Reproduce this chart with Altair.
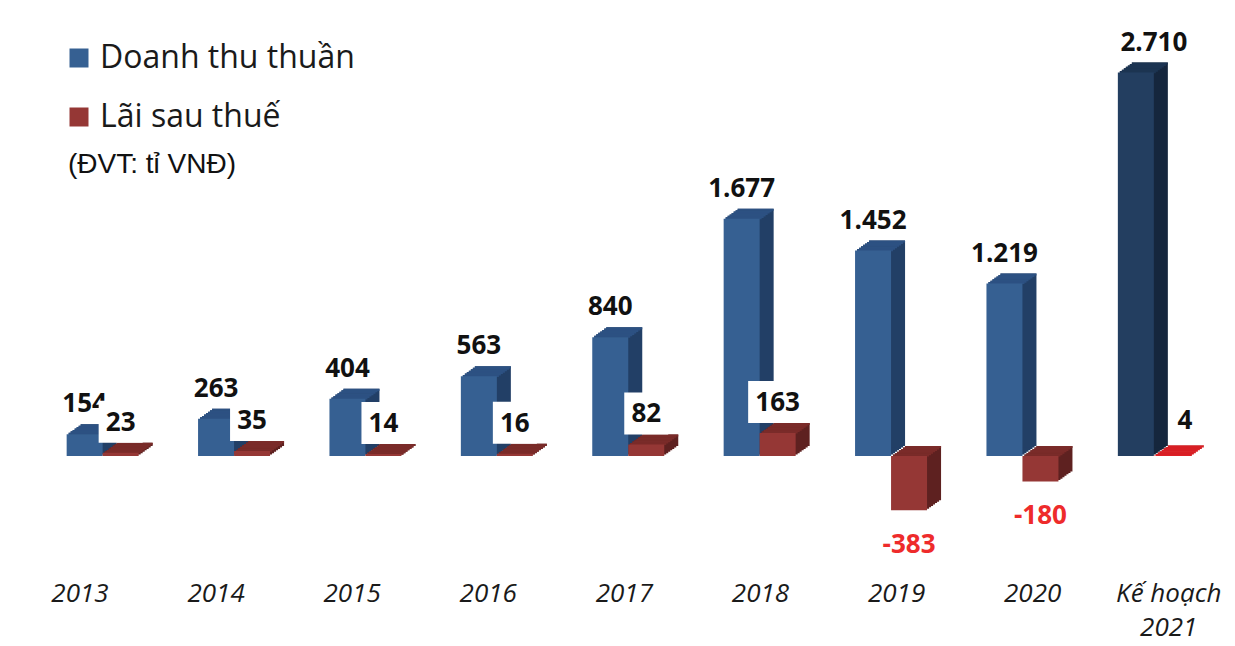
import altair as alt
import pandas as pd

# ---- data ----
years = ["2013", "2014", "2015", "2016", "2017", "2018", "2019", "2020", "Kế hoạch 2021"]
x_labels = ["2013", "2014", "2015", "2016", "2017", "2018", "2019", "2020", "Kế hoạch\n2021"]
revenue = [154, 263, 404, 563, 840, 1677, 1452, 1219, 2710]
profit = [23, 35, 14, 16, 82, 163, -383, -180, 4]
series_names = ["Doanh thu thuần", "Lãi sau thuế"]
unit_note = "(ĐVT: tỉ VNĐ)"

rows = []
for i, yr in enumerate(years):
    plan = i == len(years) - 1
    rows.append({"year": yr, "idx": i, "plan": plan, "series": series_names[0], "s": 0, "v": revenue[i]})
    rows.append({"year": yr, "idx": i, "plan": plan, "series": series_names[1], "s": 1, "v": profit[i]})
df = pd.DataFrame(rows)
lab_df = pd.DataFrame({"year": years, "idx": list(range(len(years))), "lab": x_labels})
note_df = pd.DataFrame({"t": [unit_note]})

# ---- styles ----
FRONT = {"b": "#366092", "bp": "#233E60", "r": "#953735", "rp": "#E32228"}
TOP = {"b": "#2C5182", "bp": "#1C3452", "r": "#7A2B29", "rp": "#D81F24"}
SIDE = {"b": "#223F66", "bp": "#15263D", "r": "#5E2120", "rp": "#B51B1B"}


def col_expr(d):
    return (f"datum.s==0 ? (datum.plan ? '{d['bp']}' : '{d['b']}') : "
            f"(datum.plan ? '{d['rp']}' : '{d['r']}')")


BANDW = 72  # width of one year group (two bars)
X = alt.X("year:N", sort=years, axis=None,
          scale=alt.Scale(type="band", paddingInner=0.452, paddingOuter=0.3493, align=0.639))


def XO(shift=0.0):
    return alt.XOffset("series:N", sort=series_names,
                       scale=alt.Scale(type="band", domain=series_names,
                                       range=[shift, BANDW + shift],
                                       paddingInner=0, paddingOuter=0))


YS = alt.Scale(domain=[-1286, 3166], nice=False, zero=False)
Y = alt.Y("v:Q", axis=None, scale=YS)

base = alt.Chart(df).transform_calculate(
    top="max(datum.v, 0)",
    front=col_expr(FRONT),
    side=col_expr(SIDE),
    topc=col_expr(TOP),
)

NSTEP = 7
DX = 2.0
DY = 10.0 / NSTEP

layers = []
for s in [0, 1]:
    b = base.transform_filter(f"datum.s=={s}")
    # extrusion (side faces)
    for k in range(1, NSTEP + 1):
        layers.append(
            b.mark_bar(yOffset=-DY * k, y2Offset=-DY * k)
            .encode(x=X, xOffset=XO(DX * k), y=Y, y2=alt.datum(0),
                    color=alt.Color("side:N", scale=None))
        )
    # top faces
    for k in range(1, NSTEP + 1):
        layers.append(
            b.mark_bar(yOffset=-DY * k, y2Offset=-DY * (k - 1) + 0.6)
            .encode(x=X, xOffset=XO(DX * k), y=alt.Y("top:Q", axis=None, scale=YS),
                    y2=alt.Y2("top:Q"), color=alt.Color("topc:N", scale=None))
        )
    # front faces (historic years, with legend)
    layers.append(
        b.transform_filter("!datum.plan").mark_bar()
        .encode(
            x=X, xOffset=XO(), y=Y, y2=alt.datum(0),
            color=alt.Color(
                "series:N",
                scale=alt.Scale(domain=series_names, range=[FRONT["b"], FRONT["r"]]),
                legend=alt.Legend(
                    orient="none", legendX=55, legendY=34, title=None,
                    symbolType="square", symbolSize=361, symbolStrokeWidth=0,
                    symbolOpacity=1, labelFontSize=32, labelFont="Open Sans",
                    labelColor="#1a1a1a", rowPadding=27, labelOffset=5,
                    padding=0, direction="vertical", labelLimit=0,
                ),
            ),
        )
    )
    # front faces (plan)
    layers.append(
        b.transform_filter("datum.plan").mark_bar()
        .encode(x=X, xOffset=XO(), y=Y, y2=alt.datum(0), color=alt.Color("front:N", scale=None))
    )

lbl_expr = "(datum.v < 0 ? '-' : '') + replace(format(abs(datum.v), ','), ',', '.')"

# revenue labels
layers.append(
    base.transform_filter("datum.s==0").transform_calculate(lbl=lbl_expr)
    .mark_text(font="Open Sans", fontWeight="bold", fontSize=26, dy=-30,
               dx=alt.ExprRef("datum.plan ? 18 : 0"),
               baseline="middle", color="#111111")
    .encode(x=X, xOffset=XO(), y=Y, text="lbl:N")
)
# white label boxes for positive profit
layers.append(
    base.transform_filter("datum.s==1 && datum.v>0 && !datum.plan")
    .transform_calculate(bw="length(toString(datum.v))*15+14")
    .mark_bar(color="white", yOffset=-52, y2Offset=-10)
    .encode(x=X, xOffset=XO(), y=Y, y2=alt.Y2("v:Q"), size=alt.Size("bw:Q", scale=None))
)
# positive profit labels
layers.append(
    base.transform_filter("datum.s==1 && datum.v>0").transform_calculate(lbl=lbl_expr)
    .mark_text(font="Open Sans", fontWeight="bold", fontSize=26,
               dy=alt.ExprRef("datum.plan ? -34 : -30"),
               dx=alt.ExprRef("datum.plan ? 13 : 0"),
               baseline="middle", color="#111111")
    .encode(x=X, xOffset=XO(), y=Y, text="lbl:N")
)
# negative profit labels
layers.append(
    base.transform_filter("datum.s==1 && datum.v<0").transform_calculate(lbl=lbl_expr)
    .mark_text(font="Open Sans", fontWeight="bold", fontSize=26, dy=35,
               baseline="middle", color="#EE2B2B")
    .encode(x=X, xOffset=XO(), y=Y, text="lbl:N")
)
# category labels
layers.append(
    alt.Chart(lab_df).transform_calculate(lines="split(datum.lab, '\\n')")
    .mark_text(font="Open Sans", fontStyle="italic", fontSize=26, baseline="alphabetic",
               lineHeight=34, dx=alt.ExprRef("datum.idx*4.7-22.7"), color="#1a1a1a")
    .encode(x=X, y=alt.value(594), text="lines:N")
)
# unit note
layers.append(
    alt.Chart(note_df).mark_text(font="Liberation Sans", fontSize=28, align="left",
                                 baseline="alphabetic", color="#111111")
    .encode(x=alt.value(60), y=alt.value(165), text="t:N")
)

chart = (
    alt.layer(*layers)
    .resolve_scale(xOffset="independent")
    .properties(width=1215, height=630, padding=0,
                autosize=alt.AutoSizeParams(type="none"))
    .configure_view(stroke=None)
)

chart.save("out.html", embed_options={"renderer": "svg", "actions": False})
